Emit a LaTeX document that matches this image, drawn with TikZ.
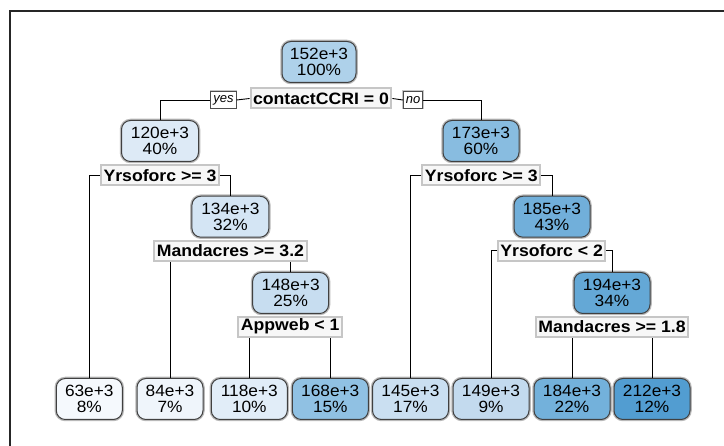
\documentclass[tikz,border=0pt]{standalone}
\usepackage{fontspec}
\setmainfont{Liberation Sans}
\newfontfamily\nf[FakeStretch=1.06]{Liberation Sans}
\newfontfamily\lf[FakeStretch=1.07]{Liberation Sans}
\definecolor{c63}{HTML}{F5F9FD}
\definecolor{c84}{HTML}{EFF5FB}
\definecolor{c118}{HTML}{E1EDF8}
\definecolor{c120}{HTML}{DDEAF6}
\definecolor{c134}{HTML}{D4E5F4}
\definecolor{c145}{HTML}{CADFF1}
\definecolor{c148}{HTML}{C7DDF0}
\definecolor{c149}{HTML}{C3DAEE}
\definecolor{c152}{HTML}{AED1EA}
\definecolor{c168}{HTML}{90C1E3}
\definecolor{c173}{HTML}{88BCE0}
\definecolor{c184}{HTML}{73B1DB}
\definecolor{c185}{HTML}{71AFDA}
\definecolor{c194}{HTML}{64A8D6}
\definecolor{c212}{HTML}{529DD1}
\tikzset{
  nd/.style={rounded corners=9pt, draw=black!75, line width=1pt,
    minimum height=41pt, minimum width=76pt, inner sep=0pt, align=center,
    font=\nf\fontsize{16.3}{16.5}\selectfont,
    preaction={draw=gray!55, line width=3.5pt}},
  lab/.style={draw=gray!45, line width=2pt, fill=gray!6,
    font=\lf\bfseries\fontsize{16.5}{16.5}\selectfont,
    inner xsep=2.5pt, inner ysep=0pt, minimum height=20pt},
  yn/.style={draw=black!70, line width=0.8pt, fill=white,
    font=\itshape\fontsize{13}{13}\selectfont,
    inner xsep=2.5pt, inner ysep=0pt, minimum height=16.5pt,
    preaction={draw=gray!45, line width=2.5pt}},
  conn/.style={draw=black, line width=0.9pt}
}
\begin{document}
\begin{tikzpicture}[x=1pt,y=-1pt]
\useasboundingbox (0,0) rectangle (724,446);
\fill[white] (0,0) rectangle (724,446);
\draw[line width=2pt, black!85] (10,446) -- (10,11.5) -- (724,11.5);

% internal nodes
\node[nd, fill=c152, minimum width=74pt] (n1) at (319,62) {152e+3\\100\%};
\node[nd, fill=c120, minimum width=77pt] (n2) at (160,141) {120e+3\\40\%};
\node[nd, fill=c173] (n3) at (481,141) {173e+3\\60\%};
\node[nd, fill=c134, minimum width=77pt] (n4) at (230.4,216.7) {134e+3\\32\%};
\node[nd, fill=c185] (n5) at (552,216.7) {185e+3\\43\%};
\node[nd, fill=c148] (n6) at (290.6,293) {148e+3\\25\%};
\node[nd, fill=c194] (n7) at (612,293) {194e+3\\34\%};

% leaves
\node[nd, fill=c63, minimum width=66pt] (l1) at (89.3,399) {63e+3\\8\%};
\node[nd, fill=c84, minimum width=66pt] (l2) at (170,399) {84e+3\\7\%};
\node[nd, fill=c118] (l3) at (249.3,399) {118e+3\\10\%};
\node[nd, fill=c168] (l4) at (330.3,399) {168e+3\\15\%};
\node[nd, fill=c145] (l5) at (410.5,399) {145e+3\\17\%};
\node[nd, fill=c149] (l6) at (491,399) {149e+3\\9\%};
\node[nd, fill=c184] (l7) at (572,399) {184e+3\\22\%};
\node[nd, fill=c212] (l8) at (652,399) {212e+3\\12\%};

% split labels
\node[lab] (s1) at (321,98.5) {contactCCRI = 0};
\node[yn] (yes) at (223.5,100) {yes};
\node[yn] (no) at (413,100) {no};
\node[lab] (s2) at (160,175.5) {Yrsoforc >= 3};
\node[lab] (s3) at (481.3,175.5) {Yrsoforc >= 3};
\node[lab] (s4) at (230.4,250.8) {Mandacres >= 3.2};
\node[lab] (s5) at (551.7,250.8) {Yrsoforc < 2};
\node[lab] (s6) at (290.2,326.7) {Appweb < 1};
\node[lab] (s7) at (612,326.7) {Mandacres >= 1.8};

% connectors
\draw[conn] (yes.west) -| (n2.north);
\draw[conn] (yes.east) -- (s1.west);
\draw[conn] (s1.east) -- (no.west);
\draw[conn] (no.east) -| (n3.north);
\draw[conn] (s2.west) -| (l1.north);
\draw[conn] (s2.east) -| (n4.north);
\draw[conn] (s3.west) -| (l5.north);
\draw[conn] (s3.east) -| (n5.north);
\draw[conn] (l2.north) -- (l2.north |- s4.south);
\draw[conn] (n6.north) -- (n6.north |- s4.south);
\draw[conn] (s5.west) -| (l6.north);
\draw[conn] (s5.east) -| (n7.north);
\draw[conn] (l3.north) -- (l3.north |- s6.south);
\draw[conn] (l4.north) -- (l4.north |- s6.south);
\draw[conn] (l7.north) -- (l7.north |- s7.south);
\draw[conn] (l8.north) -- (l8.north |- s7.south);
\end{tikzpicture}
\end{document}
